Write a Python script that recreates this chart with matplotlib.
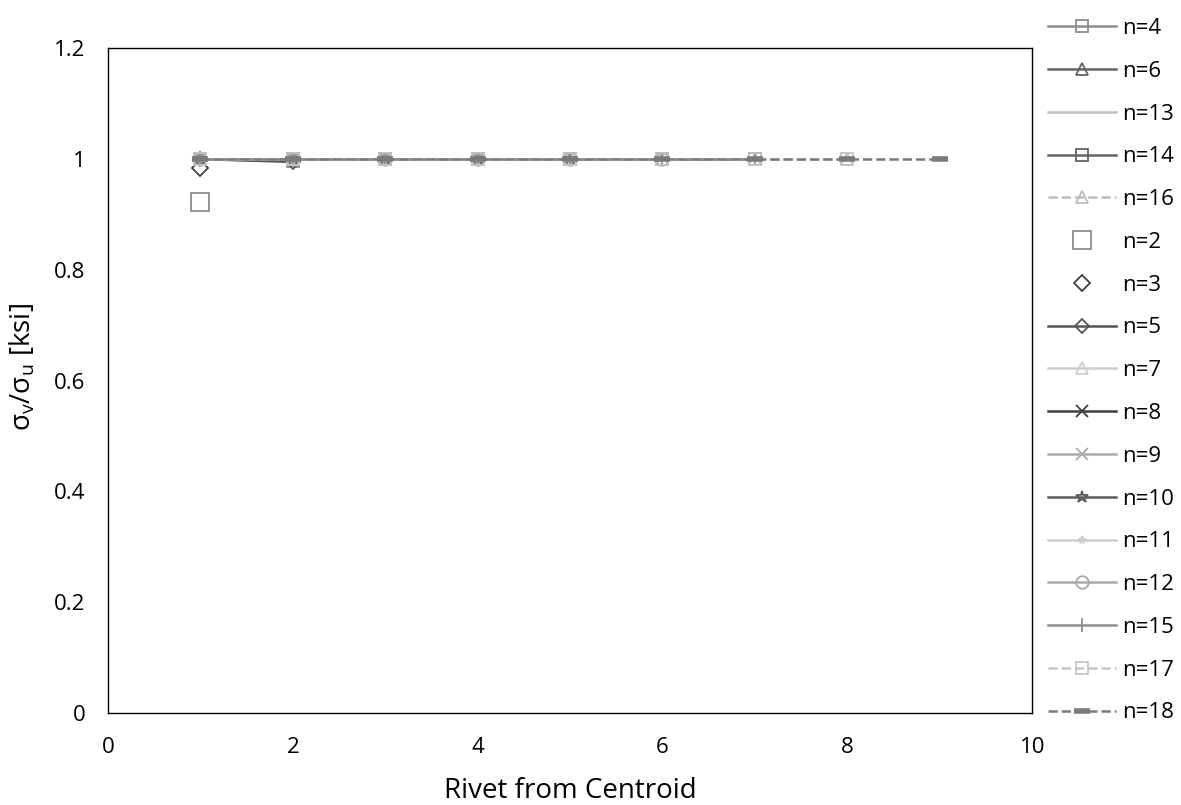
import matplotlib.pyplot as plt

plt.rcParams['font.family'] = ['Open Sans', 'DejaVu Sans']

# rivets from centroid -> stress ratio, one series per rivet count n
legend_order = [4, 6, 13, 14, 16, 2, 3, 5, 7, 8, 9, 10, 11, 12, 15, 17, 18]

x2 = [1];            y2 = [0.922]
x3 = [1];            y3 = [0.984]
x4 = [1, 2];         y4 = [1.0, 0.996]
x5 = [1, 2];         y5 = [1.0, 0.995]
x6 = [1, 2, 3];      y6 = [1.0, 1.0, 1.0]
x7 = [1, 2, 3];      y7 = [1.0, 1.0, 1.0]
x8 = [1, 2, 3, 4];   y8 = [1.0, 1.0, 1.0, 1.0]
x9 = [1, 2, 3, 4];   y9 = [1.0, 1.0, 1.0, 1.0]
x10 = [1, 2, 3, 4, 5]; y10 = [1.0, 1.0, 1.0, 1.0, 1.0]
x11 = [1, 2, 3, 4, 5]; y11 = [1.0, 1.0, 1.0, 1.0, 1.0]
x12 = [1, 2, 3, 4, 5, 6]; y12 = [1.0, 1.0, 1.0, 1.0, 1.0, 1.0]
x13 = [1, 2, 3, 4, 5, 6]; y13 = [1.0, 1.0, 1.0, 1.0, 1.0, 1.0]
x14 = [1, 2, 3, 4, 5, 6, 7]; y14 = [1.0, 1.0, 1.0, 1.0, 1.0, 1.0, 1.0]
x15 = [1, 2, 3, 4, 5, 6, 7]; y15 = [1.0, 1.0, 1.0, 1.0, 1.0, 1.0, 1.0]
x16 = [1, 2, 3, 4, 5, 6, 7, 8]; y16 = [1.0, 1.0, 1.0, 1.0, 1.0, 1.0, 1.0, 1.0]
x17 = [1, 2, 3, 4, 5, 6, 7, 8]; y17 = [1.0, 1.0, 1.0, 1.0, 1.0, 1.0, 1.0, 1.0]
x18 = [1, 2, 3, 4, 5, 6, 7, 8, 9]; y18 = [1.0, 1.0, 1.0, 1.0, 1.0, 1.0, 1.0, 1.0, 1.0]

data = {2: (x2, y2), 3: (x3, y3), 4: (x4, y4), 5: (x5, y5), 6: (x6, y6),
        7: (x7, y7), 8: (x8, y8), 9: (x9, y9), 10: (x10, y10), 11: (x11, y11),
        12: (x12, y12), 13: (x13, y13), 14: (x14, y14), 15: (x15, y15),
        16: (x16, y16), 17: (x17, y17), 18: (x18, y18)}

# style: color, linestyle, marker, markersize
styles = {
    4:  ('#8c8c8c', '-', 's', 8),
    6:  ('#626262', '-', '^', 8),
    13: ('#c0c0c0', '-', '', 0),
    14: ('#636363', '-', 's', 8),
    16: ('#bdbdbd', '--', '^', 8),
    2:  ('#8c8c8c', 'none', 's', 13),
    3:  ('#404040', 'none', 'D', 8.5),
    5:  ('#555555', '-', 'D', 7),
    7:  ('#cdcdcd', '-', '^', 8),
    8:  ('#404040', '-', 'x', 9),
    9:  ('#acacac', '-', 'x', 9),
    10: ('#5c5c5c', '-', '*', 9),
    11: ('#cdcdcd', '-', '*', 6),
    12: ('#a9a9a9', '-', 'o', 9),
    15: ('#8f8f8f', '-', '|', 10),
    17: ('#c5c5c5', '--', 's', 9),
    18: ('#7a7a7a', '--', '_', 12),
}

fig = plt.figure(figsize=(11.81, 8.05), dpi=100)
ax = fig.add_axes([0.0914, 0.1143, 0.7826, 0.8257])

for n in legend_order:
    c, ls, m, ms = styles[n]
    xs, ys = data[n]
    mew = 4 if m == '_' else 1.3
    ax.plot(xs, ys, color=c, linestyle=ls, linewidth=1.8, marker=m if m else None,
            markersize=ms, markerfacecolor='none', markeredgecolor=c,
            markeredgewidth=mew, label=f'n={n}')

ax.set_xlim(0, 10)
ax.set_ylim(0, 1.2)
ax.set_xticks([0, 2, 4, 6, 8, 10])
ax.set_yticks([0, 0.2, 0.4, 0.6, 0.8, 1, 1.2])
ax.set_yticklabels(['0', '0.2', '0.4', '0.6', '0.8', '1', '1.2'])
ax.tick_params(length=0, labelsize=16)
ax.tick_params(axis='y', pad=16)
ax.tick_params(axis='x', pad=17)
for s in ax.spines.values():
    s.set_color('black')
    s.set_linewidth(1.0)

ax.set_xlabel('Rivet from Centroid', fontsize=20, labelpad=14)
ax.set_ylabel(r'σ$_\mathregular{v}$/σ$_\mathregular{u}$ [ksi]', fontsize=20, labelpad=8)
ax.yaxis.set_label_coords(-0.077, 0.52)

ax.legend(loc='upper left', bbox_to_anchor=(1.007, 1.059), frameon=False,
          fontsize=16, handlelength=3.1, labelspacing=0.98, handletextpad=0.25,
          borderaxespad=0)

fig.savefig('out.png', dpi=100)
